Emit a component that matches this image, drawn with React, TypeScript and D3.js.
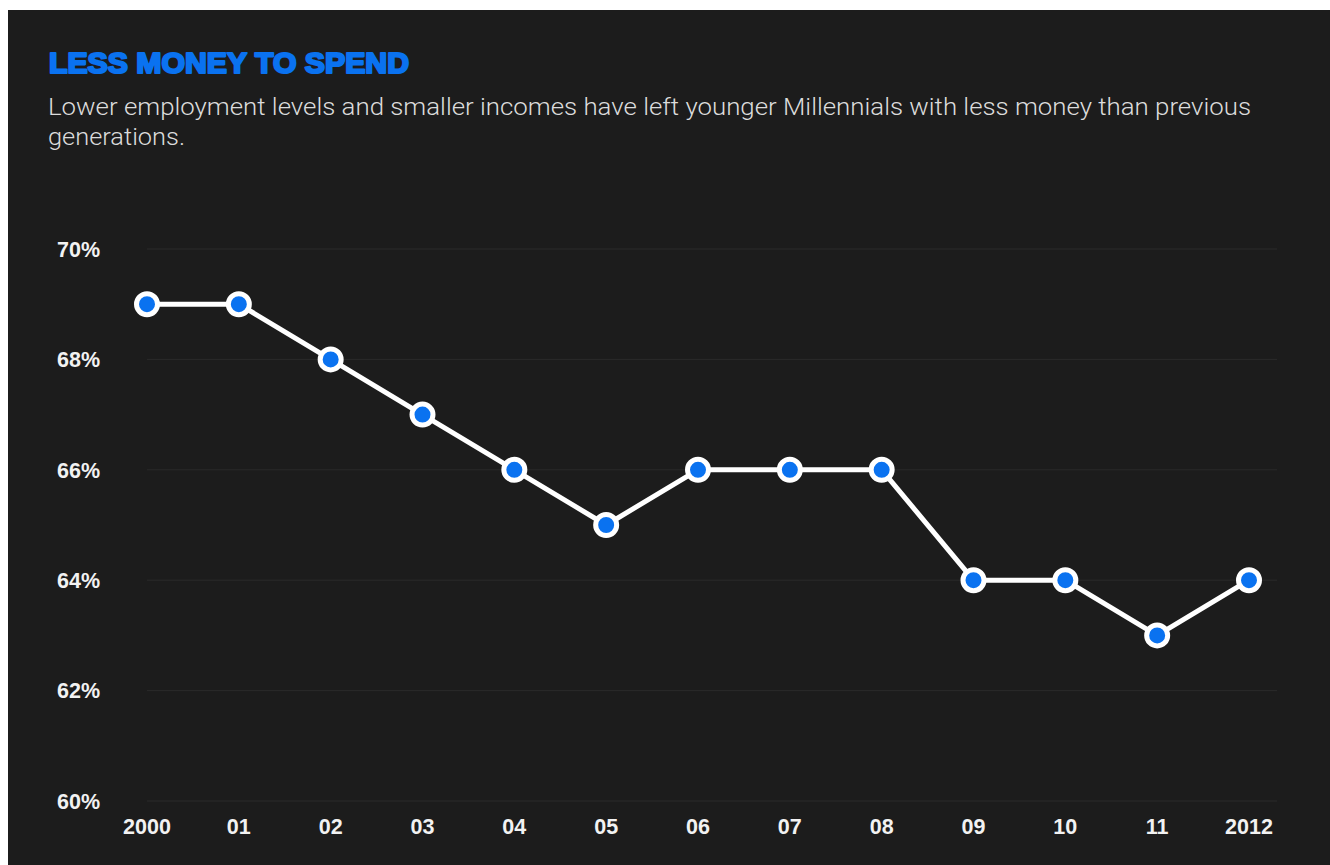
import React from "react";
import * as d3 from "d3";

const years = ["2000", "01", "02", "03", "04", "05", "06", "07", "08", "09", "10", "11", "2012"];
const values = [69, 69, 68, 67, 66, 65, 66, 66, 66, 64, 64, 63, 64];
const yTicks = [60, 62, 64, 66, 68, 70];
const title = "LESS MONEY TO SPEND";
const subtitle1 = "Lower employment levels and smaller incomes have left younger Millennials with less money than previous";
const subtitle2 = "generations.";

const W = 1330;
const H = 865;
const BG = "#1c1c1c";
const BLUE = "#0a72f0";
const SANS = "'Liberation Sans', Arial, Helvetica, sans-serif";

export default function App() {
  const x = d3.scalePoint<string>().domain(years).range([147, 1249]);
  const y = d3.scaleLinear().domain([60, 70]).range([801, 249]);
  const line = d3
    .line<number>()
    .x((_, i) => x(years[i]) as number)
    .y((d) => y(d));

  return (
    <div style={{ position: "absolute", left: 0, top: 0, width: W, height: H, background: "#fff" }}>
      <svg width={W} height={H} style={{ display: "block" }}>
        <rect x={8} y={10} width={W - 8} height={H - 10} fill={BG} />
        <text
          x={49}
          y={73}
          fill={BLUE}
          stroke={BLUE}
          strokeWidth={2.2}
          strokeLinejoin="round"
          fontFamily={SANS}
          fontWeight={700}
          fontSize={29}
          textLength={360}
          lengthAdjust="spacingAndGlyphs"
        >
          {title}
        </text>
        <text x={48} y={115} fill="#dcdcdc" fontFamily="Roboto, 'Noto Sans', sans-serif" fontWeight={300} fontSize={24.5} textLength={1203} lengthAdjust="spacingAndGlyphs">
          {subtitle1}
        </text>
        <text x={48} y={145} fill="#dcdcdc" fontFamily="Roboto, 'Noto Sans', sans-serif" fontWeight={300} fontSize={24.5} textLength={137} lengthAdjust="spacingAndGlyphs">
          {subtitle2}
        </text>
        {yTicks.map((t) => (
          <g key={t}>
            <line x1={147} x2={1277} y1={y(t)} y2={y(t)} stroke="#2a2a2a" strokeWidth={1} />
            <text
              x={100}
              y={y(t)}
              dy="0.36em"
              textAnchor="end"
              fill="#f2f2f2"
              fontFamily={SANS}
              fontWeight={700}
              fontSize={21.5}
            >
              {t}%
            </text>
          </g>
        ))}
        {years.map((yr) => (
          <text
            key={yr}
            x={x(yr) as number}
            y={834}
            textAnchor="middle"
            fill="#f2f2f2"
            fontFamily={SANS}
            fontWeight={700}
            fontSize={21.5}
          >
            {yr}
          </text>
        ))}
        <path d={line(values) || ""} fill="none" stroke="#ffffff" strokeWidth={5} strokeLinejoin="round" />
        {values.map((v, i) => (
          <circle key={i} cx={x(years[i]) as number} cy={y(v)} r={10.5} fill={BLUE} stroke="#ffffff" strokeWidth={5} />
        ))}
      </svg>
    </div>
  );
}
